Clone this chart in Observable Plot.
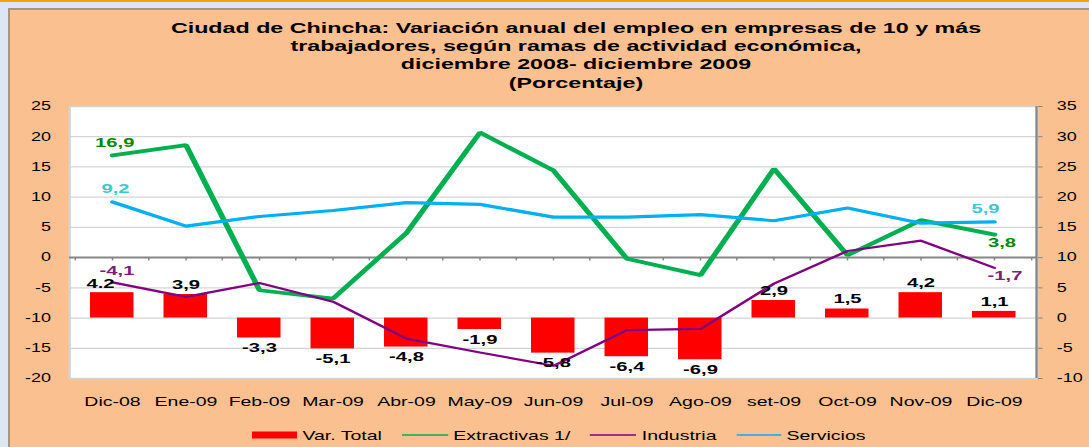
<!DOCTYPE html>
<html><head><meta charset="utf-8">
<script src="https://cdn.jsdelivr.net/npm/d3@7"></script>
<script src="https://cdn.jsdelivr.net/npm/@observablehq/plot@0.6"></script>
<style>
html,body{margin:0;padding:0;}
body{width:1089px;height:447px;overflow:hidden;background:#dce7f3;position:relative;font-family:"Liberation Sans",Arial,sans-serif;}
#strip{position:absolute;left:0;top:0;width:1089px;height:2px;background:#ffa000;}
#panel{position:absolute;left:8px;top:8px;right:0;bottom:0;background:#fac090;border-left:2px solid #a89482;border-top:2px solid #a89482;}
#stage{position:absolute;left:0;top:0;width:726px;height:447px;transform:scaleX(1.5);transform-origin:0 0;}
#title{position:absolute;top:19px;left:384px;transform:translateX(-50%);white-space:nowrap;text-align:center;font-weight:bold;font-size:15.5px;line-height:18.2px;color:#000;}
#chart{position:absolute;left:0;top:90px;}
#legend{position:absolute;top:427px;left:168px;height:16px;display:flex;align-items:center;font-size:13px;color:#000;white-space:nowrap;}
#legend .item{display:flex;align-items:center;margin-right:13px;}
#legend svg{display:block;margin-right:3.6px;}
</style>
</head><body>
<div id="strip"></div>
<div id="panel"></div>
<div id="stage">
  <div id="title"></div>
  <div id="chart"></div>
  <div id="legend"></div>
</div>
<script>
const titleLines = [
  "Ciudad de Chincha: Variación anual del empleo en empresas de 10 y más",
  "trabajadores, según ramas de actividad económica,",
  "diciembre 2008- diciembre 2009",
  "(Porcentaje)"
];
const categories = ["Dic-08","Ene-09","Feb-09","Mar-09","Abr-09","May-09","Jun-09","Jul-09","Ago-09","set-09","Oct-09","Nov-09","Dic-09"];
const varTotal = [4.2,3.9,-3.3,-5.1,-4.8,-1.9,-5.8,-6.4,-6.9,2.9,1.5,4.2,1.1];
const varTotalLabels = ["4.2","3,9","-3,3","-5,1","-4,8","-1,9","-5,8","-6,4","-6,9","2,9","1,5","4,2","1,1"];
const extractivas = [16.9,18.6,-5.4,-6.8,4.1,20.7,14.4,-0.2,-2.9,14.7,0.4,6.2,3.8];
const industria = [-4.1,-6.5,-4.2,-7.3,-13.4,-15.7,-17.9,-12.0,-11.8,-4.3,1.1,2.8,-1.7];
const servicios = [9.2,5.2,6.8,7.8,9.1,8.8,6.7,6.7,7.1,6.1,8.2,5.7,5.9];
const leftTicks = [-20,-15,-10,-5,0,5,10,15,20,25];
const rightTicks = [-10,-5,0,5,10,15,20,25,30,35];
const rightOffset = 10; // right-axis value = left-axis value + 10
const seriesNames = ["Var. Total","Extractivas 1/","Industria","Servicios"];
const firstLabels = ["16,9","-4,1","9,2"];
const lastLabels = ["3,8","-1,7","5,9"];

const colors = {total:"#ff0000", ext:"#00b050", ind:"#800080", serv:"#00b0f0"};
const labelColors = {ext:"#008a00", ind:"#7b1f7b", serv:"#3cc8d2"};

document.getElementById("title").innerHTML = titleLines.map(t => `<div>${t}</div>`).join("");

const rows = categories.map((c,i) => ({cat:c, total:varTotal[i], label:varTotalLabels[i], ext:extractivas[i], ind:industria[i], serv:servicios[i]}));
const first = rows[0], last = rows[rows.length-1];

const W = 726, H = 330, ML = 46, MR = 35, MT = 16, MB = 42;
const step = (W - ML - MR) / categories.length;
const gray = "#868686";
const ns = "http://www.w3.org/2000/svg";

function rightAxisLine(index, scales, values, dims) {
  const l = document.createElementNS(ns, "line");
  const x = dims.width - dims.marginRight;
  l.setAttribute("x1", x); l.setAttribute("x2", x);
  l.setAttribute("y1", dims.marginTop); l.setAttribute("y2", dims.height - dims.marginBottom);
  l.setAttribute("stroke", gray); l.setAttribute("stroke-width", 1.5);
  return l;
}

const lbl = {fontWeight: "bold", fontSize: 13.5};

const plot = Plot.plot({
  width: W, height: H,
  marginLeft: ML, marginRight: MR, marginTop: MT, marginBottom: MB,
  style: {background: "transparent", fontFamily: '"Liberation Sans", Arial, sans-serif', color: "#000", overflow: "visible"},
  x: {domain: categories, paddingInner: 0.41, paddingOuter: 0.205, label: null},
  y: {domain: [-20, 25], nice: false, label: null},
  marks: [
    Plot.frame({fill: "white", stroke: "#d4d4d4", strokeWidth: 1.5}),
    Plot.ruleY(leftTicks.filter(d => d !== 0 && d !== -20 && d !== 25), {y: d => d, stroke: "#d4d4d4", strokeWidth: 1.3}),
    Plot.ruleY([0], {y: d => d, stroke: gray, strokeWidth: 2}),
    Plot.ruleX(categories, {x: d => d, y1: 0, y2: -0.55, stroke: gray, strokeWidth: 1, dx: -step/2}),
    Plot.ruleX(categories, {x: d => d, y1: 0, y2: -0.55, stroke: gray, strokeWidth: 1}),
    Plot.ruleX([categories[categories.length-1]], {x: d => d, y1: 0, y2: -0.55, stroke: gray, strokeWidth: 1, dx: step/2}),
    Plot.barY(rows, {x: "cat", y1: -rightOffset, y2: d => d.total - rightOffset, fill: colors.total}),
    Plot.line(rows, {x: "cat", y: "ext", stroke: colors.ext, strokeWidth: 3.8, strokeLinejoin: "miter"}),
    Plot.line(rows, {x: "cat", y: "ind", stroke: colors.ind, strokeWidth: 2.2, strokeLinejoin: "miter"}),
    Plot.line(rows, {x: "cat", y: "serv", stroke: colors.serv, strokeWidth: 3.2, strokeLinejoin: "miter"}),
    // bar labels
    Plot.text(rows.filter((d,i) => d.total >= 0 && i > 0), {x: "cat", y: d => d.total - rightOffset, text: "label", dy: -10, fill: "#000", ...lbl}),
    Plot.text([first], {x: "cat", y: d => d.total - rightOffset, text: "label", dy: -8.5, dx: -8, fill: "#000", ...lbl}),
    Plot.text(rows.filter(d => d.total < 0), {x: "cat", y: d => d.total - rightOffset, text: "label", dy: 10, fill: "#000", ...lbl}),
    // series end labels
    Plot.text([first], {x: "cat", y: "ext", text: () => firstLabels[0], dy: -13, dx: 1.5, fill: labelColors.ext, ...lbl}),
    Plot.text([first], {x: "cat", y: "ind", text: () => firstLabels[1], dy: -12, dx: 3, fill: labelColors.ind, ...lbl}),
    Plot.text([first], {x: "cat", y: "serv", text: () => firstLabels[2], dy: -13, dx: 2, fill: labelColors.serv, ...lbl}),
    Plot.text([last], {x: "cat", y: "ext", text: () => lastLabels[0], dy: 8, dx: 5, fill: labelColors.ext, ...lbl}),
    Plot.text([last], {x: "cat", y: "ind", text: () => lastLabels[1], dy: 8, dx: 7, fill: labelColors.ind, ...lbl}),
    Plot.text([last], {x: "cat", y: "serv", text: () => lastLabels[2], dy: -13.5, dx: -6, fill: labelColors.serv, ...lbl}),
    // axes
    Plot.axisY({anchor: "left", ticks: leftTicks, tickSize: 0, tickPadding: 12.5, fontSize: 12, label: null, tickFormat: d => String(d)}),
    Plot.axisY({anchor: "right", ticks: leftTicks, tickSize: 3, tickPadding: 10, fontSize: 12, stroke: gray, label: null, tickFormat: d => String(rightTicks[leftTicks.indexOf(d)])}),
    rightAxisLine,
    Plot.axisX({anchor: "bottom", tickSize: 0, tickPadding: 18, fontSize: 13, label: null})
  ]
});
document.getElementById("chart").appendChild(plot);

const swatches = [
  `<svg width="30" height="8"><rect x="0" y="0.5" width="30" height="7" fill="${colors.total}"/></svg>`,
  `<svg width="31" height="8"><line x1="0" x2="31" y1="4" y2="4" stroke="${colors.ext}" stroke-width="1.3"/></svg>`,
  `<svg width="31" height="8"><line x1="0" x2="31" y1="4" y2="4" stroke="${colors.ind}" stroke-width="1.3"/></svg>`,
  `<svg width="30" height="8"><line x1="0" x2="30" y1="4" y2="4" stroke="${colors.serv}" stroke-width="1.3"/></svg>`
];
document.getElementById("legend").innerHTML = seriesNames.map((n,i) => `<span class="item">${swatches[i]}<span>${n}</span></span>`).join("");
</script>
</body></html>
